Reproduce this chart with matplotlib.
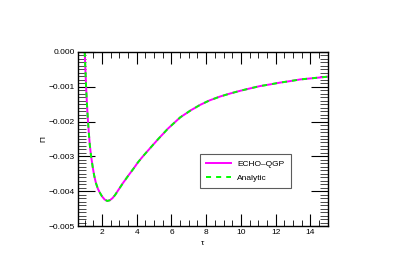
import matplotlib
matplotlib.use("Agg")
import matplotlib.pyplot as plt
from matplotlib.ticker import MultipleLocator

tau = [1.0, 1.04, 1.08, 1.13, 1.19, 1.25, 1.30, 1.37, 1.46, 1.55, 1.65, 1.76, 1.87,
       2.0, 2.15, 2.3, 2.45, 2.6, 2.75, 2.92, 3.2, 3.5, 3.8, 4.07, 4.35, 4.65,
       5.22, 5.8, 6.5, 7.1, 7.65, 8.2, 8.8, 9.4, 10.0, 10.5, 11.1, 11.7, 12.25,
       12.8, 13.4, 14.2, 15.0]
pi_echo = [0.0, -0.0005, -0.001, -0.0015, -0.002, -0.0024, -0.0027, -0.0030,
           -0.0033, -0.00356, -0.00377, -0.00393, -0.00404,
           -0.00415, -0.00424, -0.00428, -0.00426, -0.00420, -0.00411, -0.00398,
           -0.00377, -0.00356, -0.00336, -0.00317, -0.00300, -0.00283,
           -0.00251, -0.00220, -0.00188, -0.00168, -0.00152, -0.00139, -0.00128,
           -0.00119, -0.00111, -0.00105, -0.00098, -0.00093, -0.00088,
           -0.00084, -0.00079, -0.00075, -0.00071]
pi_analytic = list(pi_echo)

plt.rcParams['font.family'] = ['Liberation Sans', 'DejaVu Sans']

fig = plt.figure(figsize=(4.05, 2.78), dpi=100)
ax = fig.add_axes([0.192, 0.187, 0.617, 0.626])

ax.plot(tau, pi_echo, color='#ff00ff', lw=1.4, label='ECHO\u2013QGP',
        solid_joinstyle='round')
ax.plot(tau, pi_analytic, color='#00ff00', lw=1.4, ls=(0, (2.6, 2.6)), label='Analytic')

ax.set_xlim(0.6, 15)
ax.set_ylim(-0.005, 0.0)
ax.xaxis.set_major_locator(MultipleLocator(2))
ax.xaxis.set_minor_locator(MultipleLocator(0.5))
ax.yaxis.set_major_locator(MultipleLocator(0.001))
ax.yaxis.set_minor_locator(MultipleLocator(0.0001))
ax.yaxis.set_major_formatter(plt.FuncFormatter(lambda v, p: ('%.3f' % v).replace('-', '\u2212') if abs(v) > 1e-12 else '0.000'))

ax.tick_params(axis='both', which='both', direction='in', top=True, right=True,
               labelsize=6, pad=2, color='black')
ax.tick_params(axis='x', which='major', length=8.5, width=0.8)
ax.tick_params(axis='x', which='minor', length=4, width=0.6)
ax.tick_params(axis='y', which='major', length=12, width=0.8)
ax.tick_params(axis='y', which='minor', length=6, width=0.5)
for s in ax.spines.values():
    s.set_linewidth(1.0)

ax.set_xlabel('\u03c4', fontsize=6, labelpad=3)
ax.set_ylabel('\u03a0', fontsize=6, labelpad=1)

leg = ax.legend(loc='lower left', bbox_to_anchor=(0.489, 0.217, 0.363, 0.201),
                mode='expand', fontsize=6, frameon=True, fancybox=False,
                edgecolor='#333333', handlelength=3, borderaxespad=0,
                handletextpad=0.8, labelspacing=0.8, borderpad=0.7)
leg.get_frame().set_linewidth(0.8)

fig.savefig('out.png', dpi=100)
